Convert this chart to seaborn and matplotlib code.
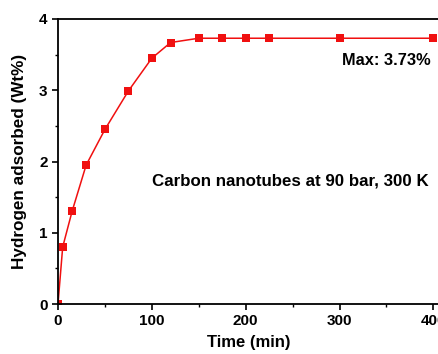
import matplotlib
matplotlib.use("Agg")
import matplotlib.pyplot as plt
import seaborn as sns
import pandas as pd
from matplotlib.ticker import MultipleLocator

time_min = [0, 5, 15, 30, 50, 75, 100, 120, 150, 175, 200, 225, 300, 400]
h2_wt = [0, 0.80, 1.30, 1.95, 2.45, 2.99, 3.45, 3.67, 3.73, 3.73, 3.73, 3.73, 3.73, 3.73]
max_label = "Max: 3.73%"
cond_label = "Carbon nanotubes at 90 bar, 300 K"

sns.set_style("ticks")
plt.rcParams['font.family'] = ['Liberation Sans', 'DejaVu Sans']
plt.rcParams['font.weight'] = 'bold'
plt.rcParams['text.color'] = 'black'
plt.rcParams['axes.labelcolor'] = 'black'
plt.rcParams['xtick.color'] = 'black'
plt.rcParams['ytick.color'] = 'black'

df = pd.DataFrame({"t": time_min, "h": h2_wt})

fig = plt.figure(figsize=(4.39, 3.54), dpi=100)
ax = fig.add_axes([58/439, 50/354, 381/439, 285/354])
sns.lineplot(data=df, x="t", y="h", ax=ax, color="#f01010", marker="s",
             markersize=5.5, markeredgewidth=0, linewidth=1.1)

ax.set_xlim(0, 406)
ax.set_ylim(0, 4)
ax.xaxis.set_major_locator(MultipleLocator(100))
ax.xaxis.set_minor_locator(MultipleLocator(50))
ax.yaxis.set_major_locator(MultipleLocator(1))
ax.yaxis.set_minor_locator(MultipleLocator(0.5))
ax.tick_params(which="major", direction="out", length=4.5, width=1.2, labelsize=11, pad=3, colors="black")
ax.tick_params(which="minor", direction="out", length=2.5, width=1.0, colors="black")
for lbl in ax.get_xticklabels() + ax.get_yticklabels():
    lbl.set_fontweight("bold")
for side in ["left", "bottom", "top"]:
    ax.spines[side].set_linewidth(1.3)
    ax.spines[side].set_color("black")
ax.spines["right"].set_visible(False)

ax.set_xlabel("Time (min)", fontsize=12, fontweight="bold", labelpad=5)
ax.set_ylabel("Hydrogen adsorbed (Wt%)", fontsize=12.3, fontweight="bold", labelpad=9)

ax.text(0.978, 0.855, max_label, transform=ax.transAxes, ha="right", va="center",
        fontsize=11.8, fontweight="bold")
ax.text(0.972, 0.43, cond_label, transform=ax.transAxes, ha="right", va="center",
        fontsize=12.2, fontweight="bold")

fig.savefig("out.png", dpi=100)
